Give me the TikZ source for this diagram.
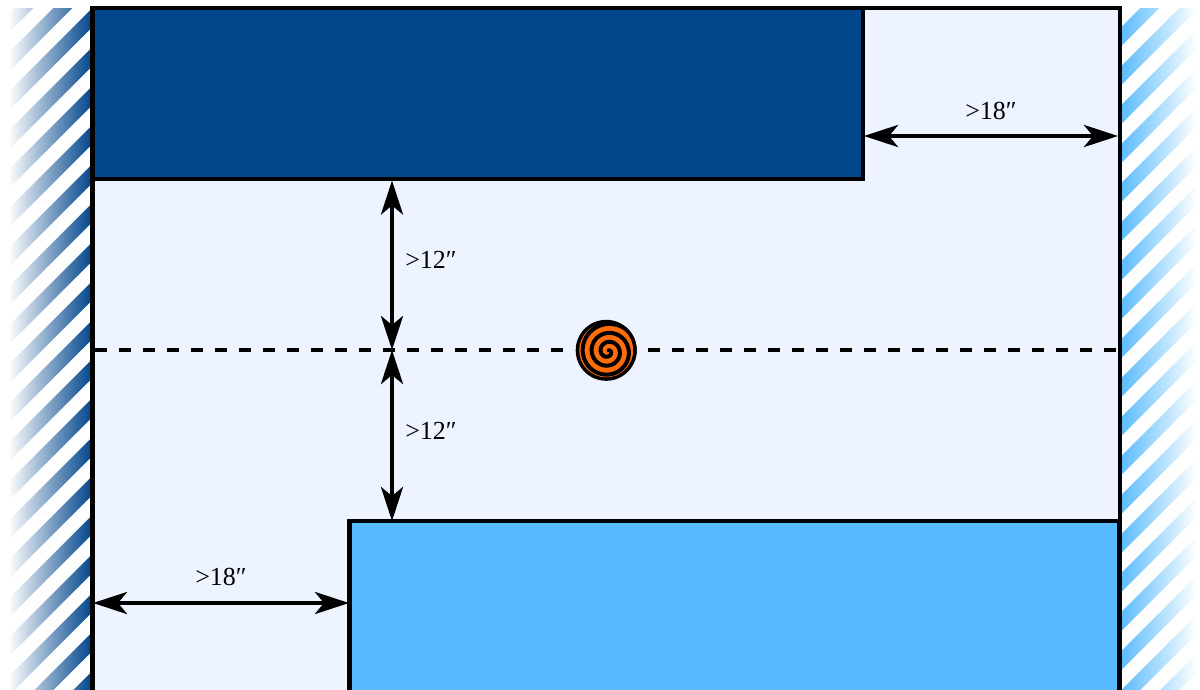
\documentclass[tikz,border=0pt]{standalone}
\usepackage{fontspec}
\setmainfont{Liberation Serif}
\usetikzlibrary{arrows.meta}
\definecolor{darkb}{HTML}{02468C}
\definecolor{lightb}{HTML}{59BBFF}
\definecolor{roombg}{HTML}{EDF3FF}
\definecolor{coil}{HTML}{FF6C0A}
\tikzset{
  wall/.style={line width=4.3pt,draw=black},
  dim/.style={line width=4.3pt,draw=black,{Stealth[length=34pt,width=22pt,inset=9pt]}-{Stealth[length=34pt,width=22pt,inset=9pt]}},
  dimlabel/.style={font=\fontsize{26}{28}\selectfont,inner sep=0pt},
  centre/.style={line width=4.3pt,draw=black,dash pattern=on 12.3pt off 11.7pt},
  block/.style={draw=black,line width=4.3pt,inner sep=0pt,outer sep=0pt,anchor=north west},
}
\begin{document}
\begin{tikzpicture}[x=1pt,y=-1pt]
\useasboundingbox (0,0) rectangle (1200,689);
\clip (0,0) rectangle (1200,689);
% hatched walls
\shade[left color=white,right color=darkb,shading=axis,shading angle=90] (8,8) rectangle (92,689);
\shade[left color=lightb,right color=white,shading=axis,shading angle=90] (1120,8) rectangle (1197,689);
\begin{scope}
\clip (0,8) rectangle (92,689);
\foreach \k in {0,...,24}{
  \fill[white] ({-36.5+\k*39},0) -- ++(19.5,0) -- ++(-800,800) -- ++(-19.5,0) -- cycle;
}
\end{scope}
\begin{scope}
\clip (1120,8) rectangle (1200,689);
\foreach \k in {0,...,50}{
  \fill[white] ({875+\k*39},0) -- ++(-19.5,0) -- ++(-800,800) -- ++(19.5,0) -- cycle;
}
\end{scope}
% room
\path[fill=roombg] (92,8) rectangle (1120,695);
\node[block,fill=darkb,minimum width=770pt,minimum height=171.2pt] (top) at (93,8) {};
\node[block,fill=lightb,minimum width=770pt,minimum height=190pt] (bot) at (349.5,521) {};
\draw[wall] (92.5,695) -- (92.5,8) -- (1119.7,8) -- (1119.7,695);
% centre line
\coordinate (cl) at (94.7,350);
\coordinate (cr) at (1119,350);
\coordinate (gapl) at (563.5,350);
\coordinate (gapr) at (648,350);
\coordinate (c) at (606.2,350.3);
\coordinate (s) at (608,351.5);
\draw[centre] (cl) -- (gapl);
\draw[centre] (gapr) -- (cr);
% coil
\begin{scope}
\node[circle,fill=black,minimum size=61pt,inner sep=0pt] (disc) at (c) {};
\clip (c) circle (30.5pt);
\fill[coil] (c) circle (27pt);
\begin{scope}[shift={(s)}]
\draw[black,line width=4pt,line cap=round] plot[domain=-60:1100,samples=240,smooth] ({(2.8+\x/360*9)*cos(\x)},{(2.8+\x/360*9)*sin(\x)});
\end{scope}
\end{scope}
% dimensions
\coordinate (a1) at (392,180.5);
\coordinate (a2) at (392,350);
\coordinate (a3) at (392,521);
\coordinate (h1) at (864,136);
\coordinate (h2) at (1118,136);
\coordinate (h3) at (93,603);
\coordinate (h4) at (349,603);
\draw[dim] (a1) -- (a2);
\draw[dim] (a2) -- (a3);
\draw[dim] (h1) -- (h2);
\draw[dim] (h3) -- (h4);
\node[dimlabel] (l1) at (991,111) {>18″};
\node[dimlabel] (l2) at (431,260) {>12″};
\node[dimlabel] (l3) at (431,431) {>12″};
\node[dimlabel] (l4) at (221,577) {>18″};
\end{tikzpicture}
\end{document}
